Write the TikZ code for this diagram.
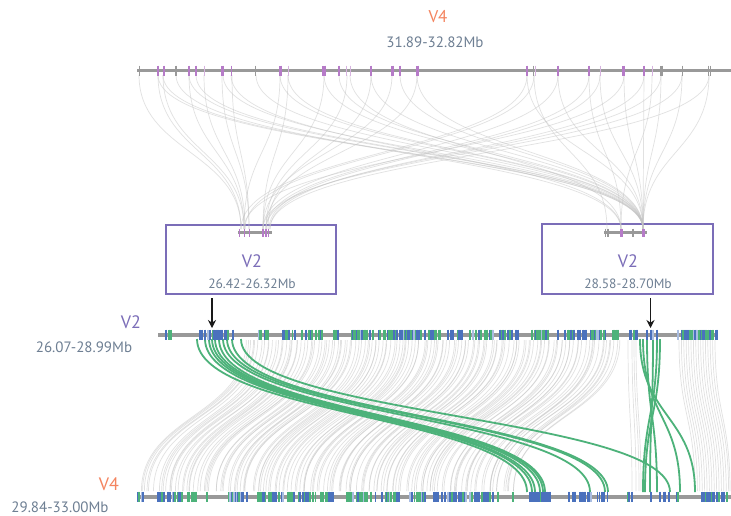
\documentclass[tikz,border=0pt]{standalone}
\usepackage{fontspec}
\setsansfont{PT Sans}
\usepackage{tikz}
\usetikzlibrary{arrows.meta}
\definecolor{chromo}{HTML}{999999}
\definecolor{gene}{HTML}{B67BC8}
\definecolor{genelt}{HTML}{D6B3DF}
\definecolor{hitgreen}{HTML}{4DB27A}
\definecolor{hitblue}{HTML}{4A71BD}
\definecolor{hitbluelt}{HTML}{A9BDE2}
\definecolor{link}{HTML}{C4C4C4}
\definecolor{frame}{HTML}{7B6DB8}
\definecolor{vfour}{HTML}{F4845F}
\definecolor{slate}{HTML}{6E7F93}
\tikzset{
  font=\sffamily,
  chrom/.style={line width=3.5pt,draw=chromo},
  synlink/.style={draw=link,line width=.7pt,opacity=.5},
  hit/.style={draw=hitgreen,line width=1.8pt},
  focus/.style={draw=frame,line width=2pt,minimum width=170pt,minimum height=69pt,inner sep=0pt},
  chrname/.style={text=vfour,font=\sffamily\fontsize{18}{20}\selectfont},
  rangelbl/.style={text=slate,font=\sffamily\fontsize{15}{17}\selectfont},
  pointer/.style={-{Stealth[length=8pt,width=8pt]},line width=1.3pt,draw=black!90}
}

\begin{document}
\begin{tikzpicture}[x=1pt,y=-1pt]
\useasboundingbox[fill=white] (0,0) rectangle (731,515);

% labels
\node[chrname,font=\sffamily\fontsize{17}{19}\selectfont] (topname) at (438,17) {V4};
\node[rangelbl] (toprange) at (435,42) {31.89-32.82Mb};
\node[chrname,text=frame] (midname) at (131,322) {V2};
\node[rangelbl] (midrange) at (84,347) {26.07-28.99Mb};
\node[chrname] (botname) at (109,484) {V4};
\node[rangelbl] (botrange) at (60,507) {29.84-33.00Mb};

% zoomed regions
\node[focus] (boxL) at (251,259.5) {};
\node[focus,minimum width=171pt,minimum height=70pt] (boxR) at (627.5,259) {};
\node[chrname,text=frame] (boxLname) at (252,261) {V2};
\node[rangelbl,font=\sffamily\fontsize{13.5}{15}\selectfont] (boxLrange) at (252,284) {26.42-26.32Mb};
\node[chrname,text=frame] (boxRname) at (628,261) {V2};
\node[rangelbl,font=\sffamily\fontsize{13.5}{15}\selectfont] (boxRrange) at (628,284) {28.58-28.70Mb};

% links top -> regions
\foreach \t/\b in {139/241,158/241,163/244,189/244,204/245,222/249,232/249,280/244,288/263,324/263,
  347/266,371/268,392/263,417/266,527/241,534/245,558/263,589/266,600/269,624/244,644/270,661/266,682/263,709/270}
  \draw[synlink] (\t,75) .. controls (\t,152) and (\b,152) .. (\b,229);
\foreach \t/\b in {158/643,163/643,176/621,189/643,196/643,223/643,231/621,256/643,280/643,288/643,324/643,
  339/643,350/621,371/643,400/643,417/643,527/643,534/607,558/643,589/621,600/643,624/643,644/643,652/621,661/643,682/643,709/643}
  \draw[synlink] (\t,75) .. controls (\t,152) and (\b,152) .. (\b,229);

% links V2 -> V4
\pgfmathsetseed{11}
\foreach \i in {0,...,139}{
  \pgfmathsetmacro{\xm}{245+2.7*\i+2*rand}
  \pgfmathsetmacro{\xb}{max(\xm-105+3*rand,139)}
  \draw[synlink] (\xm,340) .. controls (\xm,416) and (\xb,416) .. (\xb,491);
}
\foreach \i in {0,...,15}{
  \pgfmathsetmacro{\xm}{679+2.4*\i}
  \pgfmathsetmacro{\xb}{min(\xm+16,730)}
  \draw[synlink] (\xm,340) .. controls (\xm,416) and (\xb,416) .. (\xb,491);
}
\foreach \m/\b in {628/632,632/636,634/639,636/641}
  \draw[synlink] (\m,340) .. controls (\m,416) and (\b,416) .. (\b,491);

% highlighted hits
\foreach \m/\b in {197/527,205/532,209/535,212/540,215/543,219/545,223/590,227/605,232/608,241/670,
  640/695,643/680,647/657,653/650,657/643,660/645}
  \draw[hit] (\m,339) .. controls (\m,416) and (\b,416) .. (\b,492);

% chromosomes
\draw[chrom,line width=3pt] (137,70.7) -- (731,70.7);
\draw[chrom,line width=4pt] (158,334.5) -- (718,334.5);
\draw[chrom,line width=4pt] (137,496.5) -- (731,496.5);
\draw[chrom,line width=3pt] (238,232.7) -- (272,232.7);
\draw[chrom,line width=3pt] (604,232.7) -- (647,232.7);

% genes on top V4
\foreach \x/\w/\c in {139/1/chromo,158/2.5/gene,163.5/2/gene,176/1.2/chromo,189/2.5/gene,195.5/2/gene,204/1/genelt,
  222.5/3/gene,231.5/1.5/gene,255.5/1/chromo,280/3/gene,288/1/genelt,324/3.5/gene,339/2.5/gene,346.5/1/genelt,
  350/1/genelt,371/1.5/gene,392/3/gene,399.5/2/gene,417/3/gene,527/2.5/gene,533/1/chromo,535.5/1/genelt,558/1.5/gene,
  589/2.5/gene,600/1/genelt,623.5/3.5/gene,643.5/2/gene,652/1/genelt,661/3/chromo,682/1/chromo,708.5/1/chromo,710.5/1/chromo}
  \draw[draw=\c,line width=\w pt] (\x,65.5) -- (\x,76);
\foreach \x/\w/\c in {239.5/1.2/gene,244.5/1.2/gene,249.5/1.2/gene,263/1.2/gene,266/1.2/gene,268.5/1.2/gene,
  605.5/1/chromo,608/1.5/chromo,621/3/gene,633/2/chromo,643/3/gene}
  \draw[draw=\c,line width=\w pt] (\x,228.7) -- (\x,236.7);

% genes on V2 and V4
\pgfmathsetseed{5}
\foreach \a/\b/\p/\g in {160/171/3/6,196/234/4/1,256/270/6/8,280/296/6/5,300/322/6/6,333/340/5/5,350/374/6/5,
  378/397/6/5,400/440/6/5,447/462/5/2,467/493/6/6,500/518/5/3,532/548/6/7,557/583/6/4,585/607/6/5,610/618/5/9,
  630/637/5/4,642/662/3/1,678/717/6/5}{
  \foreach \x in {\a,...,\b}{
    \pgfmathrandominteger{\k}{0}{9}
    \ifnum\k<\p\relax
      \pgfmathrandominteger{\c}{0}{9}
      \pgfmathsetmacro{\w}{0.9+1.4*rnd}
      \edef\tc{\ifnum\c<\g hitgreen\else\ifnum\c=9 hitbluelt\else hitblue\fi\fi}
      \draw[draw=\tc,line width=\w pt] (\x,329.5) -- (\x,339.5);
    \fi
  }
}
\foreach \a/\b/\p/\g in {138/145/7/3,157/182/6/6,187/198/7/8,207/209/5/8,216/218/5/8,227/248/6/4,255/283/6/4,
  288/333/6/4,343/367/6/7,370/400/6/4,410/425/6/7,433/493/6/2,497/498/5/9,513/518/5/9,527/553/5/1,562/610/3/1,
  627/643/3/1,650/680/4/1,700/730/6/3}{
  \foreach \x in {\a,...,\b}{
    \pgfmathrandominteger{\k}{0}{9}
    \ifnum\k<\p\relax
      \pgfmathrandominteger{\c}{0}{9}
      \pgfmathsetmacro{\w}{0.9+1.4*rnd}
      \edef\tc{\ifnum\c<\g hitgreen\else\ifnum\c=9 hitbluelt\else hitblue\fi\fi}
      \draw[draw=\tc,line width=\w pt] (\x,491.5) -- (\x,501.5);
    \fi
  }
}

% pointers to the zoomed regions
\coordinate (pinL) at (212,298);
\coordinate (tipL) at (212,328);
\coordinate (pinR) at (650.5,298);
\coordinate (tipR) at (650.5,328);
\draw[pointer] (pinL) -- (tipL);
\draw[pointer] (pinR) -- (tipR);
\end{tikzpicture}
\end{document}
